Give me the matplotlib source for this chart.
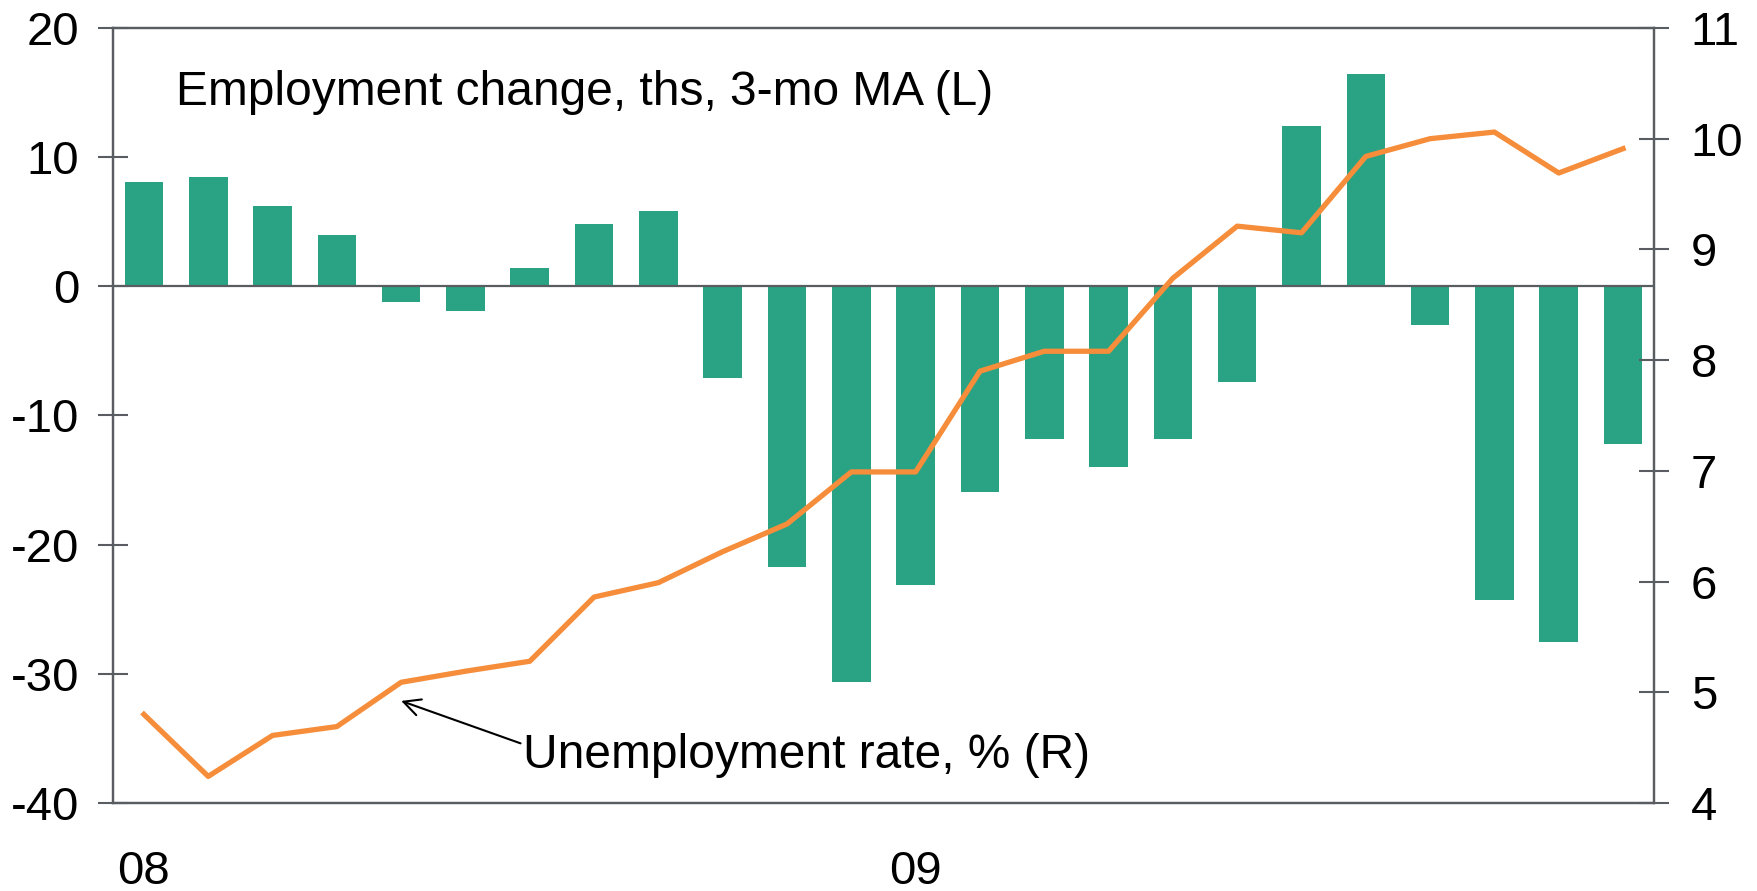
import matplotlib
matplotlib.use("Agg")
import matplotlib.pyplot as plt
import numpy as np

plt.rcParams['font.family'] = ['Liberation Sans', 'DejaVu Sans']
plt.rcParams['axes.unicode_minus'] = False

# Datos mensuales ene-2008 a dic-2009
months = list(range(24))
tick_pos = [0, 12]
tick_labels = ['08', '09']
employment_change = [8.1, 8.5, 6.2, 4.0, -1.2, -1.9, 1.4, 4.8, 5.8,
                     -7.1, -21.7, -30.6, -23.1, -15.9, -11.8, -14.0,
                     -11.8, -7.4, 12.4, 16.4, -3.0, -24.3, -27.5, -12.2]
unemployment_rate = [4.80, 4.24, 4.61, 4.69, 5.09, 5.19, 5.28, 5.86, 5.99,
                     6.27, 6.52, 6.99, 6.99, 7.90, 8.08, 8.08, 8.74, 9.21,
                     9.15, 9.84, 10.00, 10.06, 9.69, 9.91]

bar_color = '#29a383'
line_color = '#f68d3a'
spine_color = '#595d62'
fs = 34
fs_lab = 34.5

fig = plt.figure(figsize=(17.58, 8.91), dpi=100)
ax = fig.add_axes([0.0643, 0.0988, 0.8765, 0.8698])
ax2 = ax.twinx()

ax.bar(months, employment_change, width=0.6, color=bar_color, zorder=2)
ax.axhline(0, color=spine_color, lw=1.6, zorder=3)
ax2.plot(months, unemployment_rate, color=line_color, lw=3.8, zorder=4)

ax.set_xlim(-0.48, 23.48)
ax.set_ylim(-40, 20)
ax.set_yticks([-40, -30, -20, -10, 0, 10, 20])
ax2.set_ylim(4, 11)
ax2.set_yticks(range(4, 12))

ax.set_xticks(tick_pos)
ax.set_xticklabels(tick_labels)
ax.tick_params(axis='x', length=0, pad=34, labelsize=fs)
ax.tick_params(axis='y', direction='inout', length=21, width=1.5,
               color=spine_color, pad=14, labelsize=fs)
ax2.tick_params(axis='y', direction='inout', length=21, width=1.5,
                color=spine_color, pad=16, labelsize=fs)

for a in (ax, ax2):
    for s in a.spines.values():
        s.set_color(spine_color)
        s.set_linewidth(1.6)

# Etiquetas de las series
ax.text(0.5, 14.0, 'Employment change, ths, 3-mo MA (L)', fontsize=fs_lab,
        ha='left', va='baseline', zorder=5)
ax.annotate('Unemployment rate, % (R)', xy=(4.0, -32.1), xytext=(5.9, -37.3),
            fontsize=fs_lab, ha='left', va='baseline', zorder=5,
            arrowprops=dict(arrowstyle='->', color='black', lw=1.5,
                            mutation_scale=30, shrinkA=0, shrinkB=0,
                            relpos=(0, 0.75)))

fig.savefig('out.png', dpi=100)
